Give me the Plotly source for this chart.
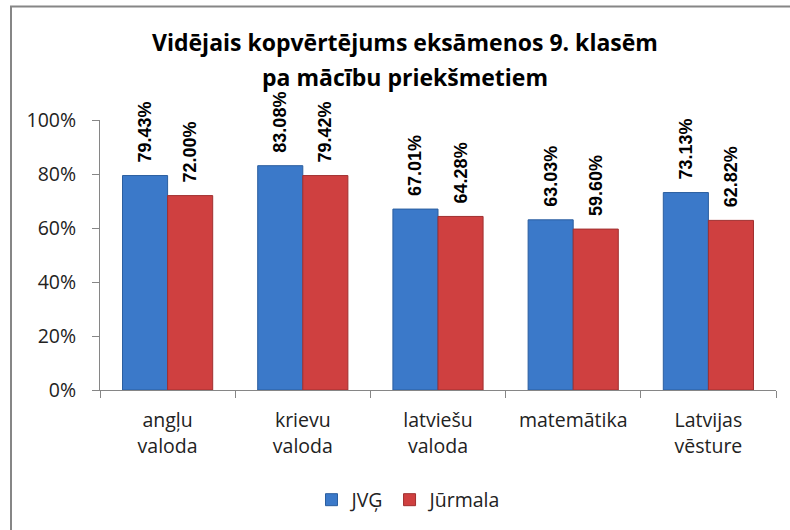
import plotly.graph_objects as go

categories = ["angļu<br>valoda", "krievu<br>valoda", "latviešu<br>valoda", "matemātika", "Latvijas<br>vēsture"]
jvg = [79.43, 83.08, 67.01, 63.03, 73.13]
jurmala = [72.00, 79.42, 64.28, 59.60, 62.82]
series_names = ["JVĢ", "Jūrmala"]
y_ticks = [0, 20, 40, 60, 80, 100]
y_tick_labels = ["0%", "20%", "40%", "60%", "80%", "100%"]
title_lines = ["Vidējais kopvērtējums eksāmenos 9. klasēm", "pa mācību priekšmetiem"]

label_font = dict(family="Liberation Sans, Arial, sans-serif", size=18, color="#000000")
NB = "\u00a0\u00a0"

fig = go.Figure()
fig.add_trace(go.Bar(
    x=categories, y=jvg, name=series_names[0],
    marker=dict(color="#3B79C9", line=dict(color="#2B5E9F", width=1)),
    text=[f"{NB}<b>{v:.2f}%</b>" for v in jvg], textposition="outside",
    textangle=-90, textfont=label_font, cliponaxis=False, constraintext="none",
))
fig.add_trace(go.Bar(
    x=categories, y=jurmala, name=series_names[1],
    marker=dict(color="#CF4040", line=dict(color="#A02F2F", width=1)),
    text=[f"{NB}<b>{v:.2f}%</b>" for v in jurmala], textposition="outside",
    textangle=-90, textfont=label_font, cliponaxis=False, constraintext="none",
))

ml, mr, mt, mb = 100, 14, 120, 139
W, H = 790, 530
pw, ph = W - ml - mr, H - mt - mb

def px_to_paper_x(px):
    return (px - ml) / pw

def px_to_paper_y(py):
    return (H - mb - py) / ph

FONT = "Open Sans, Lato, sans-serif"

fig.update_layout(
    width=W, height=H,
    margin=dict(l=ml, r=mr, t=mt, b=mb),
    paper_bgcolor="white", plot_bgcolor="white",
    barmode="group", bargap=0.333, bargroupgap=0,
    font=dict(family=FONT, size=19.5, color="#222222"),
    xaxis=dict(
        showline=True, linecolor="#868686", linewidth=1,
        ticks="outside", tickson="boundaries", ticklen=7, tickcolor="#868686",
        tickfont=dict(family=FONT, size=19.5, color="#222222"),
        ticklabelstandoff=13,
        showgrid=False,
    ),
    yaxis=dict(
        range=[0, 100], tickvals=y_ticks, ticktext=y_tick_labels,
        showline=True, linecolor="#868686", linewidth=1,
        ticks="outside", ticklen=7, tickcolor="#868686",
        tickfont=dict(family=FONT, size=19.5, color="#222222"),
        ticklabelstandoff=12,
        showgrid=False, zeroline=False,
    ),
    legend=dict(
        orientation="h", x=px_to_paper_x(409), xanchor="center",
        y=px_to_paper_y(500), yanchor="middle",
        font=dict(family=FONT, size=19.5, color="#222222"),
        itemwidth=30,
    ),
    annotations=[
        dict(text=f"<b>{title_lines[0]}</b>", xref="paper", yref="paper",
             x=px_to_paper_x(405), y=px_to_paper_y(42), xanchor="center", yanchor="middle",
             showarrow=False, font=dict(family=FONT, size=23, color="#000000")),
        dict(text=f"<b>{title_lines[1]}</b>", xref="paper", yref="paper",
             x=px_to_paper_x(405), y=px_to_paper_y(77), xanchor="center", yanchor="middle",
             showarrow=False, font=dict(family=FONT, size=23, color="#000000")),
    ],
    shapes=[dict(
        type="rect", xref="paper", yref="paper",
        x0=px_to_paper_x(11), x1=px_to_paper_x(800),
        y0=px_to_paper_y(540), y1=px_to_paper_y(6),
        line=dict(color="#868686", width=2), fillcolor="rgba(0,0,0,0)", layer="below",
    )],
)

fig.write_html(
    "out.html",
    config={"displayModeBar": False},
    post_script="document.body.style.margin='0';document.body.style.overflow='hidden';",
)
